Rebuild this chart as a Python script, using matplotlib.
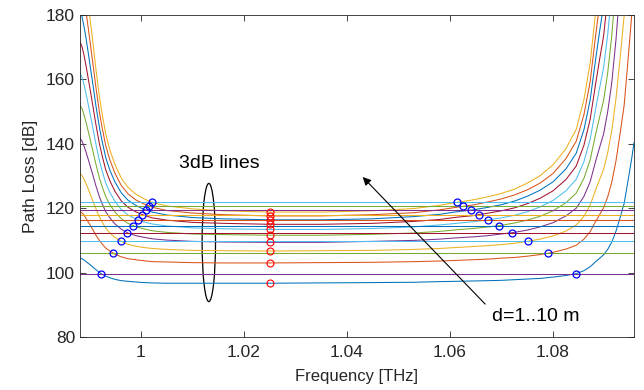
import numpy as np
import matplotlib
matplotlib.use("Agg")
import matplotlib.pyplot as plt
from matplotlib.patches import Ellipse

nan = np.nan

# frequency grid [THz]
freq = [0.9882, 0.9886, 0.9890, 0.9894, 0.9898, 0.9902, 0.9907, 0.9913, 0.9920, 0.9925,
        0.9932, 0.9940, 0.9950, 0.9962, 0.9975, 0.9990, 1.0005, 1.0022, 1.0050, 1.0100,
        1.0160, 1.0250, 1.0350, 1.0450, 1.0530, 1.0580, 1.0613, 1.0645, 1.0675, 1.0700,
        1.0725, 1.0750, 1.0775, 1.0800, 1.0825, 1.0845, 1.0860, 1.0872, 1.0882, 1.0890,
        1.0898, 1.0906, 1.0914, 1.0922, 1.0930, 1.0938, 1.0946, 1.0953, 1.0957]

# path loss [dB] for d = 1..10 m
pl_d1 = [104.5, 104.3, 103.9, 103.4, 102.9, 102.4, 101.7, 100.9, 100.0, 99.5,
         98.9, 98.4, 97.9, 97.5, 97.3, 97.1, 96.9, 96.8, 96.7, 96.7,
         96.7, 96.7, 96.8, 96.9, 97.0, 97.2, 97.3, 97.4, 97.5, 97.6,
         97.8, 98.0, 98.2, 98.6, 99.1, 99.7, 100.6, 101.8, 103.3, 104.4,
         105.5, 107.2, 109.5, 112.8, 117.0, 121.5, 129.0, 135.8, 140.3]
pl_d2 = [119.0, 118.5, 117.8, 116.8, 115.7, 114.7, 113.3, 111.6, 109.9, 108.9,
         107.6, 106.7, 105.7, 104.9, 104.3, 104.0, 103.7, 103.4, 103.3, 103.1,
         103.0, 103.0, 103.1, 103.2, 103.4, 103.6, 103.8, 104.0, 104.2, 104.5,
         104.7, 105.1, 105.6, 106.3, 107.3, 108.5, 110.4, 112.7, 115.7, 117.9,
         120.1, 123.5, 128.1, 134.6, 143.0, 152.0, 167.0, 180.6, nan]
pl_d3 = [130.8, 130.1, 129.0, 127.5, 126.0, 124.3, 122.3, 119.8, 117.2, 115.7,
         113.8, 112.3, 110.9, 109.7, 108.8, 108.2, 107.8, 107.5, 107.2, 106.9,
         106.8, 106.7, 106.8, 106.9, 107.2, 107.5, 107.8, 108.1, 108.4, 108.7,
         109.1, 109.7, 110.4, 111.4, 112.9, 114.8, 117.5, 121.0, 125.4, 128.8,
         132.0, 137.2, 144.1, 153.9, 166.4, 179.9, 202.4, nan, nan]
pl_d4 = [141.7, 140.8, 139.2, 137.3, 135.2, 133.0, 130.3, 126.9, 123.4, 121.4,
         118.9, 117.0, 115.1, 113.5, 112.3, 111.5, 111.0, 110.5, 110.1, 109.7,
         109.5, 109.4, 109.4, 109.7, 110.0, 110.4, 110.8, 111.1, 111.5, 112.0,
         112.5, 113.2, 114.2, 115.5, 117.6, 120.0, 123.7, 128.2, 134.2, 138.7,
         143.0, 149.9, 159.1, 172.1, 188.8, nan, nan, nan, nan]
pl_d5 = [152.0, 150.9, 148.9, 146.5, 143.9, 141.2, 137.8, 133.6, 129.2, 126.7,
         123.6, 121.1, 118.8, 116.8, 115.3, 114.3, 113.6, 113.0, 112.5, 112.0,
         111.8, 111.6, 111.6, 111.9, 112.3, 112.8, 113.3, 113.7, 114.2, 114.7,
         115.4, 116.3, 117.5, 119.2, 121.7, 124.7, 129.3, 135.0, 142.5, 148.1,
         153.4, 162.0, 173.6, 189.9, nan, nan, nan, nan, nan]
pl_d6 = [162.0, 160.6, 158.3, 155.4, 152.2, 149.0, 144.9, 139.8, 134.6, 131.6,
         127.8, 124.9, 122.1, 119.6, 117.9, 116.7, 115.8, 115.1, 114.5, 113.9,
         113.6, 113.4, 113.4, 113.7, 114.2, 114.8, 115.3, 115.8, 116.4, 117.0,
         117.8, 118.9, 120.4, 122.4, 125.4, 129.0, 134.5, 141.4, 150.3, 157.1,
         163.5, 173.8, 187.7, nan, nan, nan, nan, nan, nan]
pl_d7 = [171.7, 170.1, 167.4, 164.0, 160.3, 156.6, 151.8, 145.9, 139.8, 136.3,
         131.9, 128.5, 125.2, 122.3, 120.3, 118.9, 117.9, 117.0, 116.3, 115.6,
         115.3, 115.0, 115.0, 115.3, 115.9, 116.5, 117.2, 117.7, 118.5, 119.2,
         120.1, 121.4, 123.1, 125.4, 128.9, 133.1, 139.6, 147.6, 158.0, 165.9,
         173.4, 185.4, nan, nan, nan, nan, nan, nan, nan]
pl_d8 = [181.3, 179.4, 176.3, 172.5, 168.3, 163.9, 158.5, 151.7, 144.8, 140.8,
         135.7, 131.8, 128.1, 124.8, 122.5, 120.9, 119.7, 118.8, 117.9, 117.1,
         116.7, 116.4, 116.4, 116.7, 117.4, 118.1, 118.9, 119.5, 120.3, 121.1,
         122.2, 123.7, 125.6, 128.2, 132.2, 137.1, 144.4, 153.6, 165.5, 174.5,
         183.0, nan, nan, nan, nan, nan, nan, nan, nan]
pl_d9 = [nan, nan, nan, 180.7, 176.0, 171.1, 165.0, 157.4, 149.5, 145.0,
         139.4, 135.0, 130.8, 127.1, 124.5, 122.6, 121.4, 120.3, 119.3, 118.5,
         118.0, 117.6, 117.6, 118.0, 118.6, 119.5, 120.3, 121.0, 122.0, 122.9,
         124.1, 125.7, 127.8, 130.8, 135.4, 140.8, 149.1, 159.3, 172.8, 182.9,
         nan, nan, nan, nan, nan, nan, nan, nan, nan]
pl_d10 = [nan, nan, nan, nan, 183.7, 178.3, 171.5, 163.0, 154.3, 149.3,
          143.0, 138.1, 133.5, 129.4, 126.5, 124.4, 123.0, 121.8, 120.7, 119.8,
          119.2, 118.8, 118.8, 119.2, 119.9, 120.9, 121.8, 122.6, 123.6, 124.6,
          125.9, 127.8, 130.1, 133.5, 138.5, 144.5, 153.7, 165.1, 180.0, 191.3,
          nan, nan, nan, nan, nan, nan, nan, nan, nan]
curves = [pl_d1, pl_d2, pl_d3, pl_d4, pl_d5, pl_d6, pl_d7, pl_d8, pl_d9, pl_d10]

# path loss at centre frequency and 3dB levels
f_center = 1.025
pl_center = [96.7, 103.0, 106.7, 109.4, 111.6, 113.4, 115.0, 116.4, 117.6, 118.8]
pl_3db = [99.7, 106.0, 109.7, 112.4, 114.6, 116.4, 118.0, 119.4, 120.6, 121.8]
f_3db_low = [0.9923, 0.9947, 0.9962, 0.9974, 0.9985, 0.9994, 1.0002, 1.0010, 1.0016, 1.0022]
f_3db_high = [1.0844, 1.0790, 1.0751, 1.0721, 1.0696, 1.0674, 1.0657, 1.0641, 1.0625, 1.0613]

# matlab default color order
cols = ['#0072BD', '#D95319', '#EDB120', '#7E2F8E', '#77AC30', '#4DBEEE', '#A2142F']

plt.rcParams['font.family'] = ['Liberation Sans', 'DejaVu Sans']

fig = plt.figure(figsize=(6.44, 3.90), dpi=100)
ax = fig.add_axes([0.1242, 0.1359, 0.8602, 0.8256])

k = 0
for pl in curves:
    ax.plot(freq, pl, color=cols[k % 7], lw=0.75)
    k += 1
for lev in pl_3db:
    ax.axhline(lev, color=cols[k % 7], lw=0.75)
    k += 1

ax.plot(f_3db_low, pl_3db, 'o', mfc='none', mec='b', ms=5, mew=0.9)
ax.plot(f_3db_high, pl_3db, 'o', mfc='none', mec='b', ms=5, mew=0.9)
ax.plot([f_center] * len(pl_center), pl_center, 'o', mfc='none', mec='r', ms=5, mew=0.8)

ax.add_patch(Ellipse((1.0132, 109.35), 0.0026, 36.7, fill=False, ec='k', lw=0.9))
ax.text(1.0074, 134.0, '3dB lines', fontsize=14, va='center', ha='left')
ax.annotate('', xy=(1.0427, 130.3), xytext=(1.0672, 89.6),
            arrowprops=dict(arrowstyle='-|>', color='k', lw=0.8, mutation_scale=12))
ax.text(1.0681, 86.5, 'd=1..10 m', fontsize=14, va='center', ha='left')

ax.set_xlim(0.9882, 1.0957)
ax.set_ylim(80, 180)
ax.set_xticks([1.0, 1.02, 1.04, 1.06, 1.08])
ax.set_xticklabels(['1', '1.02', '1.04', '1.06', '1.08'])
ax.set_yticks([80, 100, 120, 140, 160, 180])
ax.tick_params(direction='in', top=True, right=True, length=4, width=0.6,
               colors='#262626', labelsize=12.5)
ax.tick_params(axis='x', pad=6)
for s in ax.spines.values():
    s.set_color('#262626')
    s.set_linewidth(0.6)
ax.set_xlabel('Frequency [THz]', fontsize=12, color='#262626', labelpad=6)
ax.set_ylabel('Path Loss [dB]', fontsize=12.5, color='#262626', labelpad=6)

fig.savefig('out.png', dpi=100)
